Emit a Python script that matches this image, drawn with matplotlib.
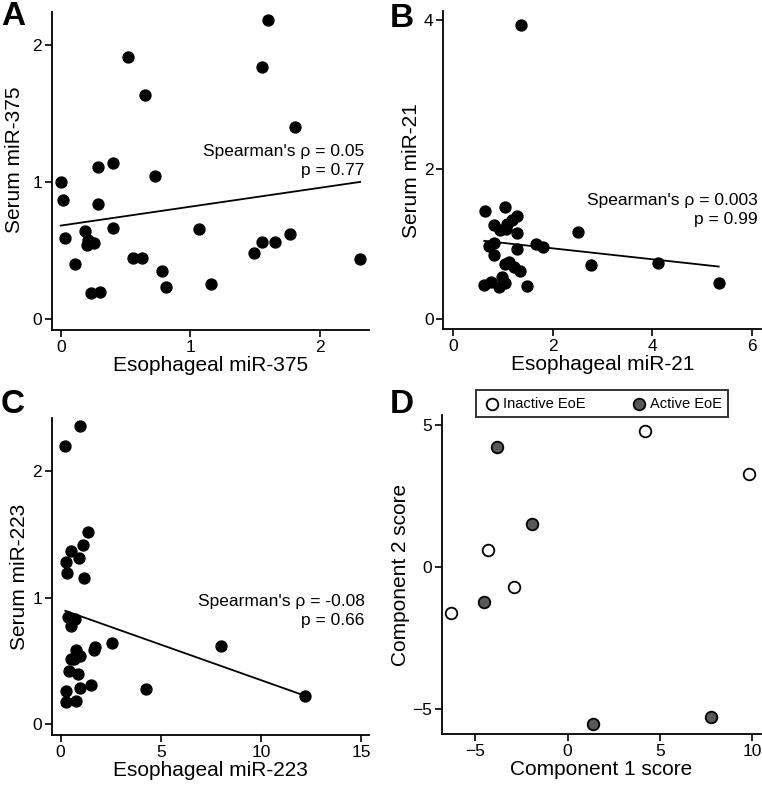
import numpy as np
import matplotlib
matplotlib.use("Agg")
import matplotlib.pyplot as plt

plt.rcParams['font.family'] = ['Liberation Sans', 'DejaVu Sans']

# panel A: miR-375
esoph_375 = [1.60, 0.52, 1.55, 0.65, 1.81, 0.40, 0.285, 0.73, 0.0, 0.02, 0.285, 0.40, 1.07, 0.03,
             0.19, 0.21, 0.20, 0.26, 1.77, 1.55, 1.65, 1.49, 0.56, 0.625, 2.31, 0.11, 0.78, 0.81,
             1.16, 0.234, 0.30]
serum_375 = [2.18, 1.91, 1.84, 1.63, 1.40, 1.14, 1.11, 1.04, 1.00, 0.87, 0.84, 0.665, 0.655, 0.595,
             0.64, 0.58, 0.54, 0.553, 0.62, 0.56, 0.56, 0.485, 0.444, 0.444, 0.44, 0.40, 0.354, 0.233,
             0.257, 0.194, 0.197]
fit_375 = (0.682, 0.1377)  # intercept, slope

# panel B: miR-21
esoph_21 = [1.36, 0.64, 1.04, 1.29, 1.19, 1.08, 0.83, 1.28, 2.51, 1.07, 0.95, 1.66, 1.81, 0.73,
            0.835, 1.28, 0.83, 1.05, 1.13, 1.23, 1.34, 2.78, 4.12, 0.98, 0.77, 0.63, 0.93, 1.04,
            1.48, 5.33]
serum_21 = [3.93, 1.45, 1.50, 1.385, 1.32, 1.27, 1.26, 1.15, 1.16, 1.20, 1.185, 1.01, 0.96, 0.98,
            1.015, 0.935, 0.855, 0.735, 0.77, 0.70, 0.64, 0.72, 0.75, 0.56, 0.50, 0.46, 0.43, 0.49,
            0.45, 0.49]
fit_21 = (1.093, -0.073)

# panel C: miR-223
esoph_223 = [0.98, 0.23, 1.35, 1.13, 0.53, 0.93, 0.28, 0.33, 1.18, 0.38, 0.72, 0.52, 2.55, 8.0,
             1.71, 1.68, 0.78, 0.83, 0.98, 0.52, 0.68, 0.43, 0.85, 1.50, 0.97, 4.24, 0.28, 0.28,
             0.78, 12.2]
serum_223 = [2.36, 2.195, 1.52, 1.416, 1.37, 1.316, 1.28, 1.197, 1.16, 0.85, 0.834, 0.78, 0.64, 0.618,
             0.608, 0.59, 0.59, 0.555, 0.54, 0.513, 0.516, 0.424, 0.40, 0.31, 0.29, 0.276, 0.266, 0.18,
             0.187, 0.224]
fit_223 = (0.910, -0.0561)

# panel D: PCA scores
inactive_c1 = [4.18, 9.80, -4.30, -2.88, -6.33]
inactive_c2 = [4.80, 3.27, 0.60, -0.71, -1.61]
active_c1 = [-3.83, -1.92, -4.50, 1.37, 7.76]
active_c2 = [4.23, 1.53, -1.23, -5.51, -5.26]

fig = plt.figure(figsize=(7.62, 7.86), dpi=100)


def style(ax, xlim, ylim, xticks, yticks, xlabel, ylabel):
    ax.set_xlim(*xlim)
    ax.set_ylim(*ylim)
    ax.set_xticks(xticks)
    ax.set_yticks(yticks)
    ax.spines['top'].set_visible(False)
    ax.spines['right'].set_visible(False)
    for s in ('left', 'bottom'):
        ax.spines[s].set_linewidth(1.3)
    ax.tick_params(direction='out', length=5, width=1.2, labelsize=12.5, pad=2)
    ax.set_xlabel(xlabel, fontsize=15, labelpad=1)
    ax.set_ylabel(ylabel, fontsize=15, labelpad=2)


def corr_panel(ax, x, y, fit):
    ax.scatter(x, y, s=62, color='black', zorder=3)
    xs = np.array([min(x), max(x)])
    ax.plot(xs, fit[0] + fit[1] * xs, color='black', lw=1.3)


axA = fig.add_axes([0.0678, 0.5802, 0.4168, 0.405])
corr_panel(axA, esoph_375, serum_375, fit_375)
style(axA, (-0.07, 2.38), (-0.078, 2.24), [0, 1, 2], [0, 1, 2],
      'Esophageal miR-375', 'Serum miR-375')
axA.yaxis.set_label_coords(-0.087, 0.534)
axA.text(0.985, 0.53, "Spearman's \u03c1 = 0.05\np = 0.77", transform=axA.transAxes,
         ha='right', va='center', fontsize=12.5, linespacing=1.35)

axB = fig.add_axes([0.5818, 0.581, 0.417, 0.4046])
corr_panel(axB, esoph_21, serum_21, fit_21)
style(axB, (-0.19, 6.18), (-0.134, 4.11), [0, 2, 4, 6], [0, 2, 4],
      'Esophageal miR-21', 'Serum miR-21')
axB.text(0.99, 0.375, "Spearman's \u03c1 = 0.003\np = 0.99", transform=axB.transAxes,
         ha='right', va='center', fontsize=12.5, linespacing=1.35)

axC = fig.add_axes([0.0678, 0.0649, 0.4168, 0.4033])
corr_panel(axC, esoph_223, serum_223, fit_223)
style(axC, (-0.45, 15.4), (-0.084, 2.42), [0, 5, 10, 15], [0, 1, 2],
      'Esophageal miR-223', 'Serum miR-223')
axC.text(0.985, 0.39, "Spearman's \u03c1 = -0.08\np = 0.66", transform=axC.transAxes,
         ha='right', va='center', fontsize=12.5, linespacing=1.35)

axD = fig.add_axes([0.580, 0.0662, 0.4186, 0.4059])
axD.scatter(inactive_c1, inactive_c2, s=70, facecolor='white', edgecolor='black',
            linewidth=1.3, zorder=3, label='Inactive EoE')
axD.scatter(active_c1, active_c2, s=70, facecolor='#595959', edgecolor='black',
            linewidth=1.3, zorder=3, label='Active EoE')
style(axD, (-6.8, 10.47), (-5.86, 5.35), [-5, 0, 5, 10], [-5, 0, 5],
      'Component 1 score', 'Component 2 score')
leg = axD.legend(loc='center', bbox_to_anchor=(0.503, 1.035), ncol=2, fontsize=10.5,
                 frameon=True, fancybox=False, edgecolor='black', columnspacing=3.0,
                 handletextpad=0.1, borderpad=0.45, handlelength=1.3, borderaxespad=0)
leg.get_frame().set_linewidth(1.4)

# panel letters, top edges in figure pixels
letters = [('A', 1, 1), ('B', 390, 3), ('C', 1, 389), ('D', 390, 389)]
for letter, px, py in letters:
    fig.text(px / 762, 1 - py / 786, letter, fontsize=24, fontweight='bold',
             ha='left', va='top')

fig.savefig('out.png', dpi=100)
